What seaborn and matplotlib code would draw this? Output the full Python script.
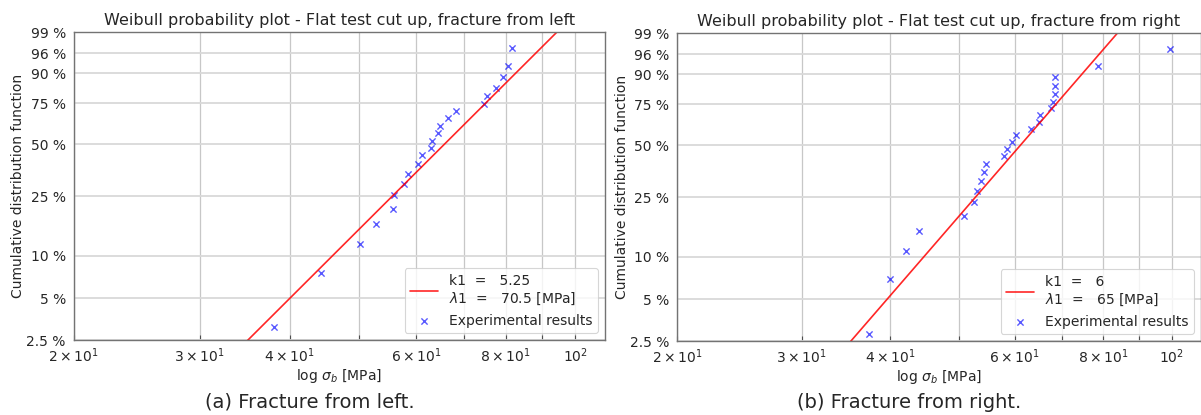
import numpy as np
import matplotlib
matplotlib.use("Agg")
import matplotlib.pyplot as plt
from matplotlib.ticker import FuncFormatter, LogLocator, NullLocator
import seaborn as sns

# Measured bending strengths [MPa] and their cumulative probabilities
left_stress = [38.05, 44.2, 50.2, 52.7, 55.7, 55.9, 57.8, 58.5, 60.4, 61.2, 63.0,
               63.2, 64.3, 64.7, 66.5, 68.2, 74.7, 75.4, 77.5, 79.3, 80.6, 81.6]
left_cdf = [0.031, 0.076, 0.120, 0.164, 0.208, 0.254, 0.299, 0.344, 0.390, 0.437, 0.480,
            0.521, 0.568, 0.612, 0.658, 0.703, 0.746, 0.792, 0.833, 0.883, 0.924, 0.970]

right_stress = [37.4, 40.0, 42.1, 44.0, 50.8, 52.5, 53.1, 53.8, 54.3, 54.6, 57.9, 58.5,
                59.4, 60.3, 63.2, 65.0, 65.1, 67.5, 67.9, 68.3, 68.3, 68.5, 78.6, 99.6]
right_cdf = [0.028, 0.070, 0.110, 0.150, 0.190, 0.233, 0.273, 0.315, 0.355, 0.395, 0.436, 0.475,
             0.517, 0.559, 0.599, 0.641, 0.682, 0.725, 0.762, 0.807, 0.846, 0.889, 0.929, 0.971]

# Fitted Weibull parameters (shape k, scale lambda)
left_k, left_lam = 5.25, 70.5
right_k, right_lam = 6, 65

titles = ["Weibull probability plot - Flat test cut up, fracture from left",
          "Weibull probability plot - Flat test cut up, fracture from right"]
captions = ["(a) Fracture from left.", "(b) Fracture from right."]

y_ticks = [0.025, 0.05, 0.10, 0.25, 0.50, 0.75, 0.90, 0.96, 0.99]
y_ticklabels = ["2.5 %", "5 %", "10 %", "25 %", "50 %", "75 %", "90 %", "96 %", "99 %"]
x_limits = (20, 110)

sns.set_style("whitegrid", {"axes.edgecolor": "0.45", "grid.color": "0.8"})
plt.rcParams["font.family"] = ["DejaVu Sans"]
plt.rcParams["mathtext.fontset"] = "dejavusans"


def weibull_fwd(p):
    p = np.clip(np.asarray(p, dtype=float), 1e-12, 1 - 1e-12)
    return np.log(-np.log1p(-p))


def weibull_inv(w):
    return -np.expm1(-np.exp(np.asarray(w, dtype=float)))


def minor_label(v, pos):
    exp = int(np.floor(np.log10(v)))
    mant = int(round(v / 10 ** exp))
    if mant in (2, 3, 4, 6, 8):
        return r"$\mathdefault{%d\times10^{%d}}$" % (mant, exp)
    return ""


fig = plt.figure(figsize=(12.01, 4.15), dpi=100)
W, H = 1201, 415
ax_l = fig.add_axes([73.5 / W, 1 - 340 / H, (605 - 73.5) / W, (340 - 32) / H])
ax_r = fig.add_axes([677 / W, 1 - 341 / H, (1201 - 677) / W, (341 - 33) / H])

panels = [
    (ax_l, left_stress, left_cdf, left_k, left_lam, "5.25", "70.5"),
    (ax_r, right_stress, right_cdf, right_k, right_lam, "6", "65"),
]

for i, (ax, stress, cdf, k, lam, k_txt, lam_txt) in enumerate(panels):
    xs = np.geomspace(x_limits[0], x_limits[1], 300)
    fit = 1 - np.exp(-(xs / lam) ** k)
    label = "k1  =   %s\n$\\lambda$1  =   %s [MPa]" % (k_txt, lam_txt)
    sns.lineplot(x=xs, y=fit, color="red", alpha=0.85, linewidth=1.2,
                 label=label, sort=False, estimator=None, ax=ax)
    sns.scatterplot(x=stress, y=cdf, marker="x", color="blue", alpha=0.65,
                    s=20, linewidth=1.0, label="Experimental results", ax=ax)

    ax.set_xscale("log")
    ax.set_yscale("function", functions=(weibull_fwd, weibull_inv))
    ax.set_xlim(*x_limits)
    ax.set_ylim(y_ticks[0], y_ticks[-1])
    ax.set_yticks(y_ticks)
    ax.set_yticklabels(y_ticklabels)
    ax.yaxis.set_minor_locator(NullLocator())
    ax.xaxis.set_major_locator(LogLocator(base=10))
    ax.xaxis.set_minor_locator(LogLocator(base=10, subs=np.arange(2, 10)))
    ax.xaxis.set_minor_formatter(FuncFormatter(minor_label))

    ax.grid(True, which="both", axis="x", color="0.78", linewidth=0.9)
    ax.grid(True, which="major", axis="y", color="0.85", linewidth=1.3)
    ax.tick_params(axis="x", which="both", bottom=True, direction="in", length=3.5,
                   width=0.8, color="0.3", labelsize=10, pad=4.5)
    ax.tick_params(axis="y", labelsize=10, pad=2, left=False)
    for sp in ax.spines.values():
        sp.set_linewidth(1.0)

    ax.set_title(titles[i], fontsize=11.5, pad=5)
    ax.set_xlabel(r"log $\sigma_b$ [MPa]", fontsize=10, labelpad=1.5)
    ax.set_ylabel("Cumulative distribution function", fontsize=10, labelpad=1)

    leg = ax.legend(loc="lower right", fontsize=10, frameon=True, fancybox=True,
                    borderaxespad=0.5, handlelength=2.0)
    leg.get_frame().set_edgecolor("0.8")
    leg.get_frame().set_linewidth(0.8)

fig.text(310 / W, 1 - 402 / H, captions[0], ha="center", va="center", fontsize=14)
fig.text(909 / W, 1 - 402 / H, captions[1], ha="center", va="center", fontsize=14)

fig.savefig("out.png", dpi=100)
